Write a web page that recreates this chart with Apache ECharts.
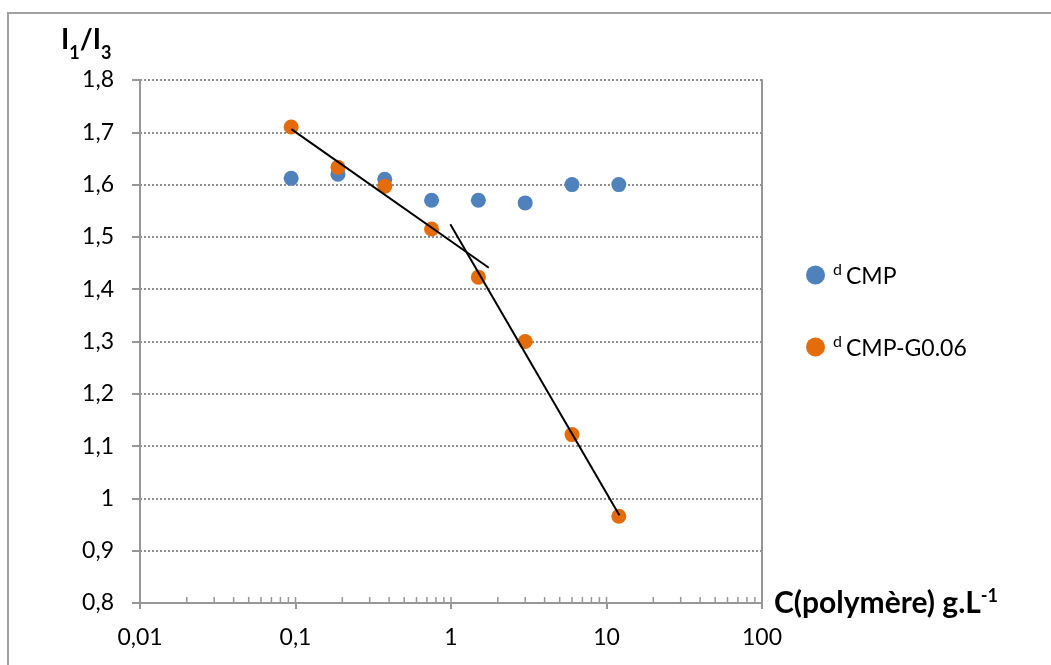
<!DOCTYPE html>
<html>
<head>
<meta charset="utf-8">
<title>I1/I3</title>
<script src="https://cdn.jsdelivr.net/npm/echarts@6/dist/echarts.min.js"></script>
<style>
	html, body { margin:0; padding:0; background:#fff; }
	#chart { width:1051px; height:665px; }
</style>
</head>
<body>
<div id="chart"></div>
<script>
// concentrations (g/L)
var conc = [0.09375, 0.1875, 0.375, 0.75, 1.5, 3, 6, 12];
// I1/I3 values
var cmp = [1.612, 1.62, 1.61, 1.57, 1.57, 1.565, 1.60, 1.60];
var cmp_g006 = [1.71, 1.633, 1.597, 1.515, 1.423, 1.30, 1.122, 0.966];
// hand drawn fit lines [x, y]
var fit_line_1 = [[0.094, 1.706], [1.75, 1.441]];
var fit_line_2 = [[0.99, 1.524], [12.1, 0.968]];
// minor ticks of the log axis
var minor_ticks = [0.02, 0.03, 0.04, 0.05, 0.06, 0.07, 0.08, 0.09, 0.1,
	0.2, 0.3, 0.4, 0.5, 0.6, 0.7, 0.8, 0.9, 1,
	2, 3, 4, 5, 6, 7, 8, 9, 10,
	20, 30, 40, 50, 60, 70, 80, 90];

var font = 'Lato, "Open Sans", sans-serif';
var axis_color = '#979797';

var chart_page = {
	init : function(){
		var myChart = echarts.init(document.getElementById('chart'));
		myChart.setOption(chart_page.get_options());
	},

	pairs : function(xs, ys){
		var out = [];
		for(var i = 0; i < xs.length; i++){
			out.push([xs[i], ys[i]]);
		}
		return out;
	},

	comma : function(v){
		return String(Math.round(v * 1000) / 1000).replace('.', ',');
	},

	get_options : function(){
		var option = {
			animation : false,
			textStyle : { fontFamily : font },
			grid : {
				left : 140, right : 289, top : 80, bottom : 62,
				outerBoundsMode : 'none'
			},
			graphic : [
				{
					type : 'rect',
					shape : { x : 8, y : 13, width : 1200, height : 800 },
					style : { fill : 'none', stroke : '#a0a0a0', lineWidth : 2 },
					silent : true
				},
				{
					type : 'text',
					left : 61, top : 26,
					style : {
						text : '{b|I}{s|1}{b|/I}{s|3}',
						rich : {
							b : { fontFamily : font, fontWeight : 'bold', fontSize : 28, lineHeight : 36, verticalAlign : 'top', fill : '#000' },
							s : { fontFamily : font, fontWeight : 'bold', fontSize : 18, lineHeight : 36, verticalAlign : 'bottom', fill : '#000' }
						}
					}
				}
			],
			legend : {
				orient : 'vertical',
				left : 801, top : 257,
				itemGap : 46,
				itemWidth : 19, itemHeight : 19,
				icon : 'circle',
				data : ['dCMP', 'dCMP-G0.06'],
				formatter : function(name){
					return '{sup|d}{t|' + name.substring(1) + '}';
				},
				textStyle : {
					rich : {
						sup : { fontFamily : font, fontSize : 16, lineHeight : 26, verticalAlign : 'top', color : '#000', padding : [0, 4, 0, 3] },
						t : { fontFamily : font, fontSize : 23, lineHeight : 26, verticalAlign : 'bottom', color : '#000' }
					}
				}
			},
			xAxis : [
				{
					type : 'log',
					logBase : 10,
					min : 0.01, max : 100,
					name : '{b|C(polymère) g.L}{s|-1}',
					nameLocation : 'end',
					nameGap : 12,
					nameTextStyle : {
						verticalAlign : 'middle',
						rich : {
							b : { fontFamily : font, fontWeight : 'bold', fontSize : 30, lineHeight : 31, verticalAlign : 'bottom', color : '#000' },
							s : { fontFamily : font, fontWeight : 'bold', fontSize : 18, lineHeight : 31, verticalAlign : 'top', color : '#000' }
						}
					},
					axisLine : { onZero : false, lineStyle : { color : axis_color, width : 2 } },
					axisTick : { show : true, inside : false, length : 6, lineStyle : { color : axis_color, width : 2 } },
					minorTick : { show : false },
					axisLabel : {
						margin : 23, fontSize : 23, color : '#000', fontFamily : font,
						formatter : function(v){ return chart_page.comma(v); }
					},
					splitLine : { show : false }
				}
			],
			yAxis : [
				{
					type : 'value',
					min : 0.8, max : 1.8, interval : 0.1,
					axisLine : { show : true, lineStyle : { color : axis_color, width : 2 } },
					axisTick : { show : true, inside : false, length : 8, lineStyle : { color : axis_color, width : 2 } },
					axisLabel : {
						margin : 26, fontSize : 23, color : '#000', fontFamily : font,
						formatter : function(v){ return chart_page.comma(v); }
					},
					splitLine : { show : true, lineStyle : { color : '#8f8f8f', width : 2, type : [2, 2] } }
				},
				{
					type : 'value',
					position : 'right',
					min : 0.8, max : 1.8, interval : 0.1,
					axisLine : { show : true, lineStyle : { color : axis_color, width : 2 } },
					axisTick : { show : false },
					axisLabel : { show : false },
					splitLine : { show : false }
				}
			],
			series : [
				{
					name : 'minor ticks',
					type : 'custom',
					silent : true,
					clip : false,
					z : 1,
					data : minor_ticks.map(function(v){ return [v, 0.8]; }),
					renderItem : function(params, api){
						var p = api.coord([api.value(0), api.value(1)]);
						return {
							type : 'line',
							shape : { x1 : p[0], y1 : p[1], x2 : p[0], y2 : p[1] - 6 },
							style : { stroke : axis_color, lineWidth : 1.5 }
						};
					}
				},
				{
					name : 'dCMP',
					type : 'scatter',
					symbolSize : 15,
					itemStyle : { color : '#4f81bd', opacity : 1 },
					z : 3,
					data : chart_page.pairs(conc, cmp)
				},
				{
					name : 'dCMP-G0.06',
					type : 'scatter',
					symbolSize : 15,
					itemStyle : { color : '#e46c0a', opacity : 1 },
					z : 4,
					data : chart_page.pairs(conc, cmp_g006)
				},
				{
					name : 'fit 1',
					type : 'line',
					showSymbol : false,
					symbol : 'none',
					z : 5,
					lineStyle : { color : '#000', width : 2 },
					data : fit_line_1
				},
				{
					name : 'fit 2',
					type : 'line',
					showSymbol : false,
					symbol : 'none',
					z : 5,
					lineStyle : { color : '#000', width : 2 },
					data : fit_line_2
				}
			]
		};
		return option;
	}
};

chart_page.init();
</script>
</body>
</html>
